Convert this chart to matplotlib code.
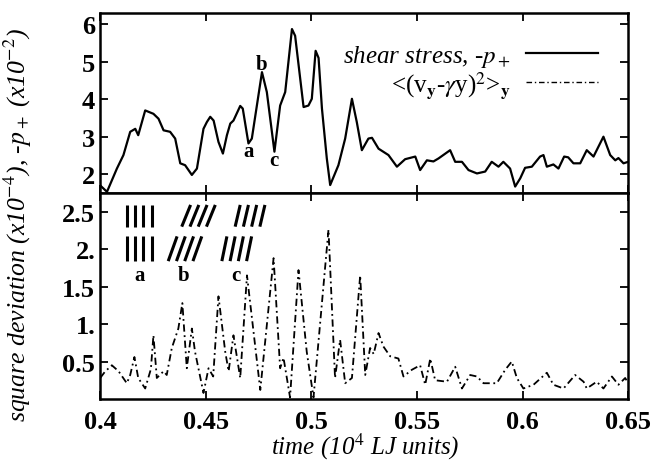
import numpy as np
import matplotlib
matplotlib.use("Agg")
import matplotlib.pyplot as plt

plt.rcParams['font.family'] = ['Liberation Serif', 'DejaVu Serif']
plt.rcParams['mathtext.fontset'] = 'stix'

# shear stress (top panel)
t_stress = [0.4000, 0.4032, 0.4079, 0.4110, 0.4142, 0.4166, 0.4180, 0.4213, 0.4252, 0.4276,
            0.4300, 0.4331, 0.4355, 0.4379, 0.4402, 0.4434, 0.4458, 0.4489, 0.4505, 0.4521,
            0.4537, 0.4560, 0.4581, 0.4600, 0.4616, 0.4631, 0.4663, 0.4675, 0.4702, 0.4718,
            0.4766, 0.4789, 0.4825, 0.4852, 0.4876, 0.4908, 0.4923, 0.4963, 0.4986, 0.5002,
            0.5020, 0.5034, 0.5050, 0.5073, 0.5089, 0.5128, 0.5160, 0.5192, 0.5215, 0.5239,
            0.5270, 0.5287, 0.5318, 0.5365, 0.5405, 0.5444, 0.5492, 0.5515, 0.5547, 0.5578,
            0.5602, 0.5657, 0.5681, 0.5713, 0.5744, 0.5784, 0.5823, 0.5854, 0.5886, 0.5909,
            0.5941, 0.5965, 0.5989, 0.6012, 0.6044, 0.6083, 0.6099, 0.6115, 0.6146, 0.6170,
            0.6197, 0.6216, 0.6241, 0.6273, 0.6304, 0.6336, 0.6383, 0.6415, 0.6439, 0.6454,
            0.6478, 0.6500]
stress = [1.70, 1.53, 2.15, 2.51, 3.13, 3.21, 3.04, 3.70, 3.61, 3.48,
          3.17, 3.13, 2.95, 2.29, 2.24, 1.98, 2.15, 3.21, 3.39, 3.53,
          3.43, 2.86, 2.55, 3.04, 3.35, 3.43, 3.82, 3.75, 2.82, 2.95,
          4.72, 4.19, 2.60, 3.83, 4.19, 5.87, 5.69, 3.79, 3.83, 4.01,
          5.29, 5.10, 3.75, 2.42, 1.71, 2.24, 2.95, 4.01, 3.39, 2.64,
          2.95, 2.97, 2.68, 2.51, 2.20, 2.40, 2.47, 2.11, 2.37, 2.34,
          2.42, 2.64, 2.33, 2.33, 2.11, 2.02, 2.07, 2.33, 2.20, 2.33,
          2.15, 1.67, 1.89, 2.17, 2.20, 2.47, 2.51, 2.20, 2.26, 2.15,
          2.47, 2.45, 2.29, 2.29, 2.64, 2.47, 3.00, 2.51, 2.37, 2.43,
          2.29, 2.33]

# square deviation (bottom panel)
t_dev = [0.4000, 0.4024, 0.4040, 0.4055, 0.4087, 0.4126, 0.4142, 0.4162, 0.4180, 0.4213,
         0.4240, 0.4252, 0.4268, 0.4300, 0.4315, 0.4339, 0.4370, 0.4389, 0.4410, 0.4434,
         0.4449, 0.4489, 0.4513, 0.4535, 0.4560, 0.4592, 0.4608, 0.4631, 0.4663, 0.4695,
         0.4758, 0.4821, 0.4852, 0.4868, 0.4899, 0.4939, 0.4978, 0.5010, 0.5081, 0.5112,
         0.5136, 0.5160, 0.5192, 0.5231, 0.5255, 0.5278, 0.5295, 0.5318, 0.5341, 0.5373,
         0.5412, 0.5436, 0.5476, 0.5515, 0.5539, 0.5563, 0.5586, 0.5642, 0.5681, 0.5713,
         0.5752, 0.5784, 0.5815, 0.5878, 0.5918, 0.5949, 0.5973, 0.6004, 0.6052, 0.6115,
         0.6146, 0.6194, 0.6249, 0.6289, 0.6304, 0.6351, 0.6383, 0.6423, 0.6454, 0.6486,
         0.6500]
dev = [0.28, 0.37, 0.41, 0.45, 0.37, 0.21, 0.32, 0.56, 0.28, 0.14,
       0.40, 0.85, 0.28, 0.37, 0.32, 0.68, 0.94, 1.28, 0.41, 0.94,
       0.63, 0.08, 0.41, 0.30, 1.37, 0.63, 0.37, 0.85, 0.28, 1.65,
       0.12, 1.88, 0.41, 0.55, 0.02, 1.72, 0.63, 0.02, 2.26, 0.28,
       0.79, 0.21, 0.28, 1.65, 0.32, 0.68, 0.60, 0.88, 0.70, 0.57,
       0.54, 0.30, 0.39, 0.45, 0.19, 0.54, 0.25, 0.23, 0.43, 0.14,
       0.32, 0.30, 0.21, 0.21, 0.39, 0.50, 0.28, 0.14, 0.19, 0.35,
       0.19, 0.14, 0.32, 0.23, 0.14, 0.23, 0.14, 0.30, 0.19, 0.28,
       0.21]

x_ticks = [0.4, 0.45, 0.5, 0.55, 0.6, 0.65]
x_labels = ['0.4', '0.45', '0.5', '0.55', '0.6', '0.65']
top_ticks = [2, 3, 4, 5, 6]
bot_ticks = [0.5, 1.0, 1.5, 2.0, 2.5]
bot_labels = ['0.5', '1.', '1.5', '2.', '2.5']

# schematic bar glyphs (a, b, c): first-bar x, lean, per row
glyph_rows = {
    'a': [(0.4126, 0.0), (0.4126, 0.0)],
    'b': [(0.4386, 0.0042), (0.4322, 0.0042)],
    'c': [(0.4639, 0.0024), (0.4576, 0.0024)],
}
row_y = [(2.30, 2.59), (1.84, 2.17)]
bar_step = 0.0039

fig = plt.figure(figsize=(6.55, 4.64), dpi=100)
gs = fig.add_gridspec(2, 1, height_ratios=[180, 206], hspace=0,
                      left=0.153, right=0.959, top=0.970, bottom=0.138)
ax1 = fig.add_subplot(gs[0])
ax2 = fig.add_subplot(gs[1], sharex=ax1)

ax1.plot(t_stress, stress, color='black', lw=1.6,
         label=r'shear stress, -$p_+$')
ax1.plot([], [], color='black', lw=1.0, linestyle=(0, (4, 2, 1, 2)),
         label=r'<(v$_\mathbf{y}$-$\gamma$y)$^2$>$_\mathbf{y}$')
ax2.plot(t_dev, dev, color='black', lw=1.3, linestyle=(0, (4, 2, 1, 2)))

for ax in (ax1, ax2):
    ax.set_xlim(0.4, 0.65)
    ax.tick_params(direction='in', top=True, right=True, length=6, width=1.3,
                   labelsize=19)
    for s in ax.spines.values():
        s.set_linewidth(1.8)

ax1.set_ylim(1.5, 6.3)
ax1.set_yticks(top_ticks)
ax1.set_yticklabels([str(v) for v in top_ticks], fontweight='bold')
ax1.tick_params(labelbottom=False)

ax2.set_ylim(0, 2.75)
ax2.set_yticks(bot_ticks)
ax2.set_yticklabels(bot_labels, fontweight='bold')
ax2.set_xticks(x_ticks)
ax2.set_xticklabels(x_labels, fontweight='bold')
ax2.tick_params(axis='x', pad=8)

# point labels on the stress curve
ax1.text(0.4702, 2.62, 'a', fontsize=15, fontweight='bold', ha='center', va='center')
ax1.text(0.4766, 4.94, 'b', fontsize=15, fontweight='bold', ha='center', va='center')
ax1.text(0.4821, 2.38, 'c', fontsize=15, fontweight='bold', ha='center', va='center')

# bar glyphs in the lower panel
for name, rows in glyph_rows.items():
    for (x0, lean), (y0, y1) in zip(rows, row_y):
        for k in range(4):
            xb = x0 + k * bar_step
            ax2.plot([xb, xb + lean], [y0, y1], color='black', lw=2.2,
                     solid_capstyle='butt')
    xl = rows[1][0] + 1.5 * bar_step + 0.3 * rows[1][1]
    ax2.text(xl, 1.65, name, fontsize=15, fontweight='bold', ha='center', va='center')

leg = ax1.legend(loc='upper right', frameon=False, markerfirst=False,
                 handlelength=2.9, borderaxespad=0.8,
                 labelspacing=0.0, handletextpad=0.6, prop={'style': 'italic', 'size': 18})
texts = leg.get_texts()
texts[1].set_fontstyle('normal')

fig.text(0.027, 0.515, r'square deviation (x10$^{-4}$), -$p_+$ (x10$^{-2}$)',
         rotation=90, fontsize=18.5, style='italic', ha='center', va='center')
fig.text(0.557, 0.036, r'time (10$^4$ LJ units)', fontsize=18, style='italic',
         ha='center', va='center')

fig.savefig('out.png', dpi=100)
